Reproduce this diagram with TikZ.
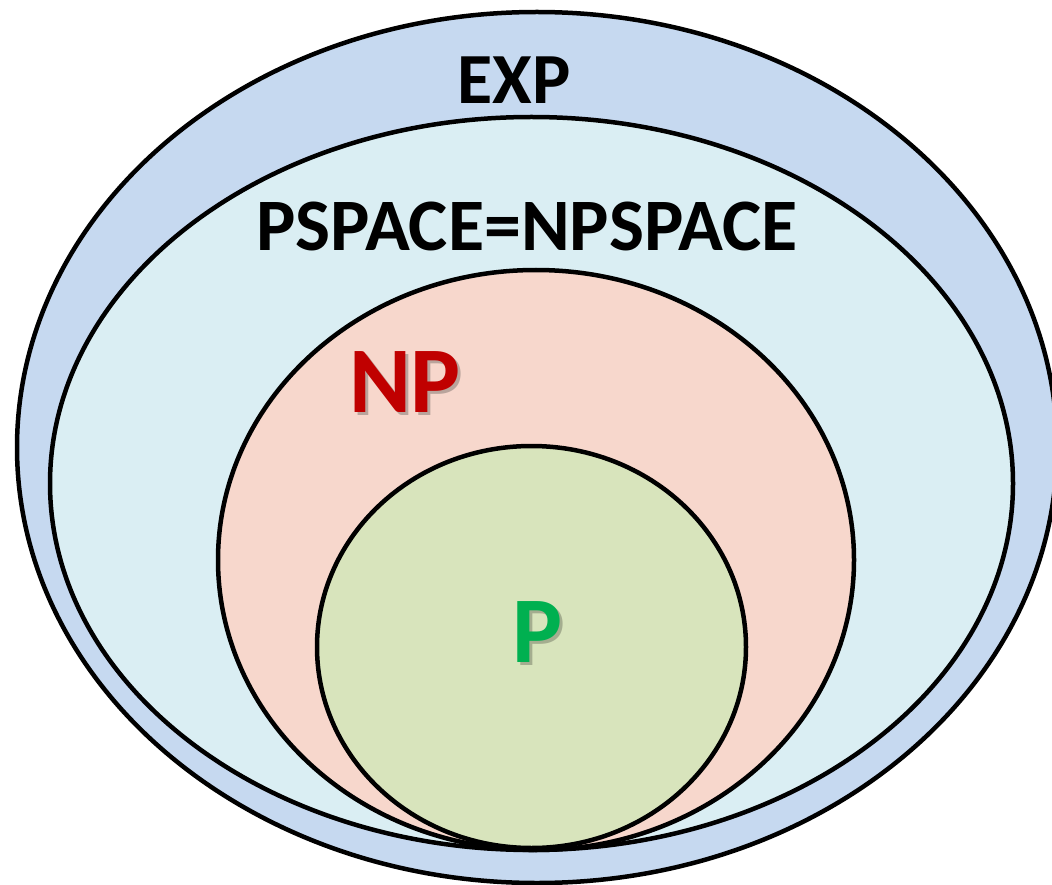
\documentclass[tikz,border=0pt]{standalone}
\usepackage{fontspec}
\setmainfont{Carlito}
\definecolor{expfill}{HTML}{C6D9F0}
\definecolor{psfill}{HTML}{DAEEF3}
\definecolor{npfill}{HTML}{F7D7CC}
\definecolor{pfill}{HTML}{D8E4BC}
\definecolor{npred}{HTML}{C00000}
\definecolor{pgreen}{HTML}{00B050}
\definecolor{npshade}{HTML}{B9A49C}
\definecolor{pshade}{HTML}{A4AD8F}
% text with a soft drop shadow behind it, offset down and to the right
\newcommand{\shadowed}[3]{%
  \makebox[0pt][l]{\hspace{3pt}\raisebox{-3pt}{\textcolor{#1}{#3}}}\textcolor{#2}{#3}}
\tikzset{
  classset/.style={draw=black, line width=4.5pt},
  biglabel/.style={font=\fontsize{72}{72}\selectfont\bfseries, inner sep=0pt, anchor=center},
  widelabel/.style={font=\fontsize{74}{74}\selectfont\bfseries, inner sep=0pt, anchor=center},
  hugelabel/.style={font=\fontsize{94}{94}\selectfont\bfseries, inner sep=0pt, anchor=center},
}
\begin{document}
\begin{tikzpicture}[x=1pt, y=-1pt]
  \useasboundingbox (0,0) rectangle (1052,885);
  \clip (0,0) rectangle (1052,885);
  % nested complexity classes, all touching at the bottom
  \draw[classset, fill=expfill] (537,447.5) ellipse [x radius=520, y radius=435.5];
  \draw[classset, fill=psfill]  (531.5,483.5) ellipse [x radius=481.5, y radius=366.5];
  \draw[classset, fill=npfill]  (536,560) ellipse [x radius=318, y radius=290];
  \draw[classset, fill=pfill]   (531.5,647) ellipse [x radius=214.5, y radius=201];
  % labels
  \node[biglabel] (exp) at (514,80) {EXP};
  \node[widelabel] (pspace) at (527,226) {PSPACE=NPSPACE};
  \node[hugelabel] (np) at (405,384) {\shadowed{npshade}{npred}{NP}};
  \node[hugelabel] (p) at (537.5,633.5) {\shadowed{pshade}{pgreen}{P}};
\end{tikzpicture}
\end{document}
